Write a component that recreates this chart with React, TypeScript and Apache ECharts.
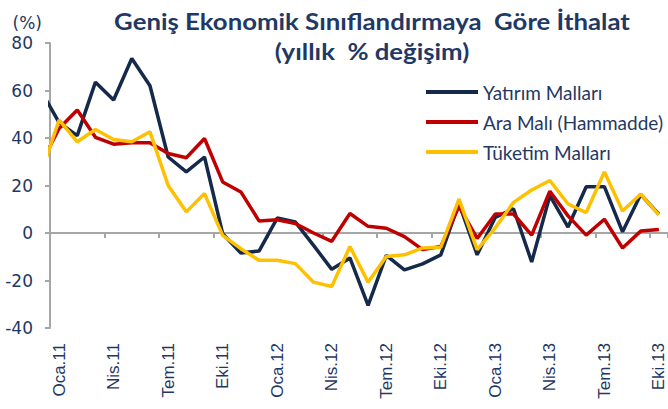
import { useEffect, useRef } from "react";
import * as echarts from "echarts";

// Monthly categories shown on the axis (Oca.11 .. Eki.13)
const categories = [
  "Oca.11", "Şub.11", "Mar.11", "Nis.11", "May.11", "Haz.11", "Tem.11", "Ağu.11", "Eyl.11", "Eki.11", "Kas.11", "Ara.11",
  "Oca.12", "Şub.12", "Mar.12", "Nis.12", "May.12", "Haz.12", "Tem.12", "Ağu.12", "Eyl.12", "Eki.12", "Kas.12", "Ara.12",
  "Oca.13", "Şub.13", "Mar.13", "Nis.13", "May.13", "Haz.13", "Tem.13", "Ağu.13", "Eyl.13", "Eki.13",
];
// preceding month (Ara.10), only its line segment up to the axis is visible
const leadInLabel = "Ara.10";

const seriesNames = ["Yatırım Malları", "Ara Malı (Hammadde)", "Tüketim Malları"];

// values start with Ara.10, then Oca.11 .. Eki.13
const yatirim = [
  60, 46.5, 41, 63.5, 56, 73.5, 62, 32, 25.7, 32, -0.3, -8.4, -7.6,
  6.3, 4.6, -5.2, -15.3, -10.5, -30.5, -9.4, -15.5, -13, -9.2, 12.5, -9.2,
  6.6, 10.2, -12.2, 15.7, 2.5, 19.5, 19.5, 0.5, 16.2, 7.9,
];
const araMali = [
  29, 44, 51.8, 40.3, 37.4, 38, 38, 33.5, 31.7, 39.8, 21.5, 17.3, 5.1,
  5.6, 4, 0, -3.5, 8.2, 2.8, 2, -1.5, -7, -5.7, 11.2, -2.3,
  8, 8, -0.9, 17.6, 7.2, -0.9, 5.8, -6.3, 0.8, 1.5,
];
const tuketim = [
  25, 47.6, 38.4, 43.6, 39.4, 38.4, 42.6, 20, 8.9, 16.6, -1, -6.6, -11.5,
  -11.5, -12.9, -20.7, -22.5, -5.7, -20.7, -9.9, -9.2, -6.3, -6, 14.3, -7,
  2.2, 12.9, 18.1, 22.1, 12.2, 8.6, 25.7, 9.3, 16.4, 7.6,
];

const yTicks = { min: -40, max: 80, step: 20 };

const TEXT = "#1f3864";
const AXIS = "#a6a6a6";
const COLORS = ["#152a4a", "#c00000", "#ffc000"];
const FONT = "Lato, 'Liberation Sans', sans-serif";
const AXIS_FONT = "'DejaVu Sans', Verdana, sans-serif";

export default function App() {
  const ref = useRef<HTMLDivElement>(null);
  useEffect(() => {
    const chart = echarts.init(ref.current!, null, { renderer: "svg" });
    const allValues = [yatirim, araMali, tuketim];
    chart.setOption({
      animation: false,
      textStyle: { fontFamily: FONT },
      graphic: [
        {
          type: "text",
          x: 372,
          y: 21,
          scaleX: 1.12,
          style: {
            text: "Geniş Ekonomik Sınıflandırmaya  Göre İthalat",
            fill: TEXT,
            font: "bold 23px Lato, sans-serif",
            textAlign: "center",
            textVerticalAlign: "middle",
          },
        },
        {
          type: "text",
          x: 372,
          y: 51,
          scaleX: 1.12,
          style: {
            text: "(yıllık  % değişim)",
            fill: TEXT,
            font: "bold 23px Lato, sans-serif",
            textAlign: "center",
            textVerticalAlign: "middle",
          },
        },
      ],
      legend: {
        data: seriesNames,
        orient: "vertical",
        left: 421,
        top: 77,
        icon: "rect",
        itemWidth: 52,
        itemHeight: 4,
        itemGap: 10,
        textStyle: { color: TEXT, fontSize: 19, lineHeight: 20, fontFamily: FONT },
      },
      grid: { left: 50, top: 43, width: 621, height: 285 },
      xAxis: [
        {
          type: "category",
          data: categories,
          boundaryGap: true,
          position: "bottom",
          axisLine: { show: false, onZero: false },
          axisTick: { show: false },
          axisLabel: {
            interval: 2,
            rotate: 90,
            margin: 15,
            color: TEXT,
            fontSize: 17,
            fontFamily: "'Liberation Sans', Arial, sans-serif",
          },
        },
        {
          type: "category",
          data: categories,
          boundaryGap: true,
          position: "bottom",
          axisLine: { show: true, onZero: true, lineStyle: { color: AXIS, width: 2 } },
          axisTick: { show: true, interval: 2, length: 5, lineStyle: { color: AXIS, width: 2 } },
          axisLabel: { show: false },
        },
        {
          type: "value",
          min: -0.5,
          max: categories.length - 0.5,
          show: false,
          axisLine: { onZero: false },
          splitLine: { show: false },
        },
      ],
      yAxis: {
        type: "value",
        min: yTicks.min,
        max: yTicks.max,
        interval: yTicks.step,
        name: "(%)",
        nameLocation: "end",
        nameGap: 12,
        nameTextStyle: { color: TEXT, fontSize: 17, align: "right", padding: [0, 8, 0, 0], fontFamily: AXIS_FONT },
        axisLine: { show: true, onZero: false, lineStyle: { color: AXIS, width: 2 } },
        axisTick: { show: true, length: 5, lineStyle: { color: AXIS, width: 2 } },
        splitLine: { show: false },
        axisLabel: { color: TEXT, fontSize: 17, margin: 17, fontFamily: AXIS_FONT },
      },
      series: seriesNames.map((name, s) => ({
        name,
        type: "line",
        xAxisIndex: 2,
        yAxisIndex: 0,
        symbol: "none",
        clip: true,
        color: COLORS[s],
        lineStyle: { color: COLORS[s], width: 3.5 },
        data: allValues[s].map((v, i) => [i - 1, v]),
      })),
    });
    return () => chart.dispose();
  }, []);
  return (
    <div
      ref={ref}
      data-lead-in={leadInLabel}
      style={{ position: "fixed", left: 0, top: 0, width: 668, height: 409, background: "#fff" }}
    />
  );
}
